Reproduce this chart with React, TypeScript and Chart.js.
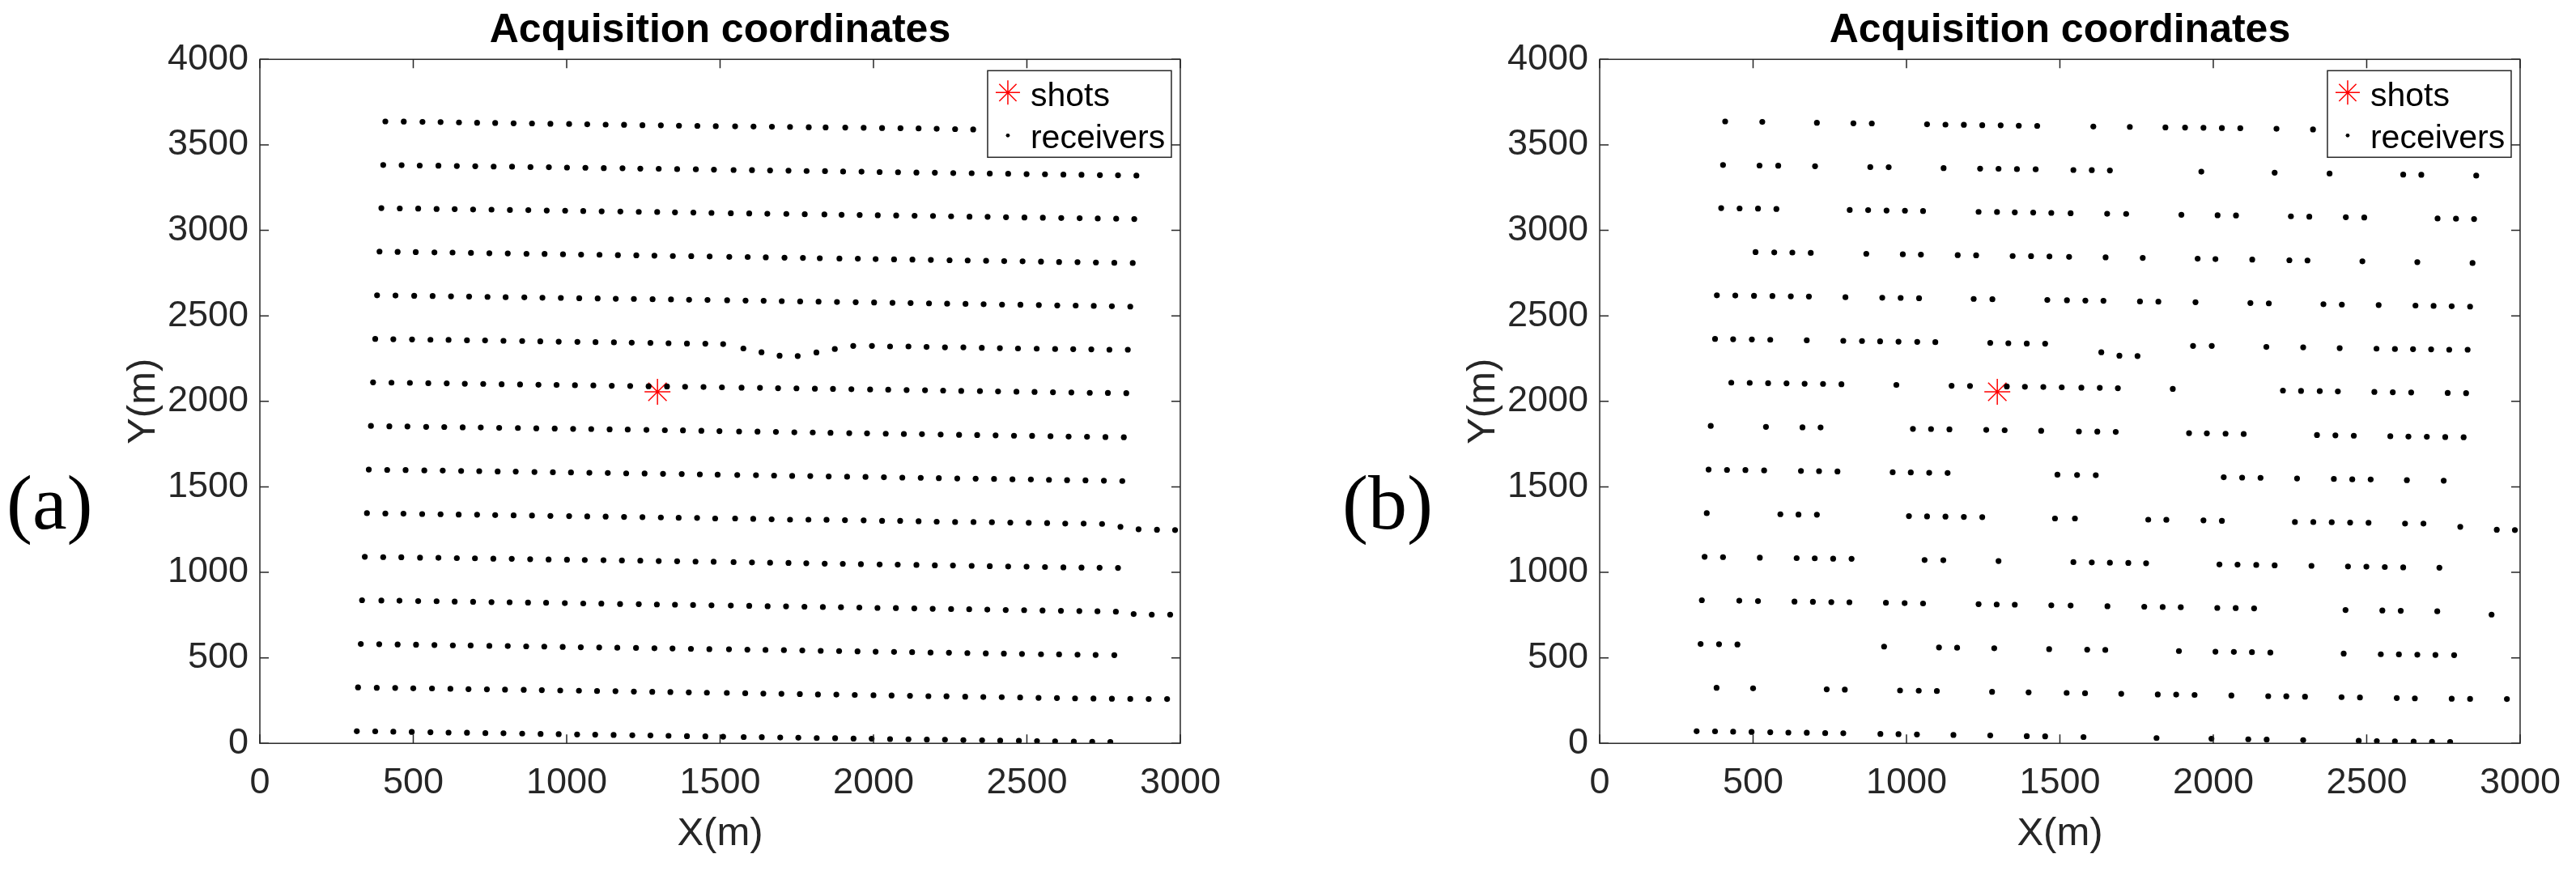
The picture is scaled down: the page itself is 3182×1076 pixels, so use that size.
import React, { useEffect, useRef } from "react";
import { Chart, registerables } from "chart.js";

Chart.register(...registerables);

const FONT = "'Liberation Sans', Arial, Helvetica, sans-serif";
const TITLE = "Acquisition coordinates";
const X_LABEL = "X(m)";
const Y_LABEL = "Y(m)";
const X_TICKS = [0, 500, 1000, 1500, 2000, 2500, 3000];
const Y_TICKS = [0, 500, 1000, 1500, 2000, 2500, 3000, 3500, 4000];
const LEGEND_LABELS = ["shots", "receivers"];
const PANEL_LABELS = ["(a)", "(b)"];

const shotX = [1296];
const shotY = [2056];

// Panel (a): full receiver lines, [x, y] in metres
const rowA01 = [[409,3637],[469,3636],[530,3634],[589,3633],[649,3631],[708,3629],[767,3628],[827,3626],[887,3625],[947,3623],[1008,3622],[1067,3620],[1127,3618],[1187,3617],[1247,3615],[1307,3614],[1366,3612],[1426,3611],[1486,3609],[1549,3608],[1609,3607],[1669,3606],[1728,3605],[1789,3603],[1844,3602],[1908,3601],[1968,3600],[2028,3598],[2088,3597],[2147,3596],[2206,3594],[2266,3592],[2325,3590]];
const rowA02 = [[402,3382],[462,3381],[521,3379],[582,3378],[642,3376],[702,3375],[762,3373],[822,3372],[882,3370],[942,3369],[1001,3367],[1061,3366],[1121,3364],[1182,3363],[1240,3361],[1300,3360],[1360,3358],[1421,3357],[1480,3355],[1544,3353],[1604,3352],[1663,3350],[1723,3349],[1782,3347],[1842,3346],[1901,3344],[1961,3343],[2020,3341],[2080,3340],[2140,3338],[2200,3337],[2260,3335],[2320,3334],[2379,3332],[2439,3331],[2499,3329],[2559,3328],[2619,3326],[2678,3325],[2738,3323],[2797,3322],[2857,3320]];
const rowA03 = [[396,3130],[456,3128],[516,3127],[576,3125],[635,3124],[695,3122],[755,3121],[815,3119],[875,3118],[935,3116],[995,3115],[1054,3113],[1114,3111],[1175,3110],[1235,3108],[1295,3107],[1353,3105],[1413,3104],[1472,3102],[1535,3100],[1595,3099],[1654,3097],[1716,3096],[1776,3094],[1840,3093],[1896,3091],[1955,3090],[2014,3088],[2074,3087],[2134,3085],[2194,3084],[2253,3082],[2313,3080],[2372,3079],[2432,3077],[2492,3075],[2552,3074],[2612,3072],[2672,3071],[2731,3069],[2791,3068],[2850,3066]];
const rowA04 = [[390,2876],[449,2874],[508,2873],[569,2871],[628,2870],[688,2868],[748,2866],[808,2865],[869,2863],[928,2862],[988,2860],[1047,2858],[1107,2857],[1167,2855],[1227,2854],[1286,2852],[1346,2850],[1406,2849],[1466,2847],[1530,2845],[1590,2844],[1649,2842],[1710,2840],[1770,2839],[1825,2837],[1889,2835],[1949,2834],[2007,2832],[2067,2830],[2127,2829],[2187,2827],[2248,2825],[2307,2824],[2367,2822],[2426,2820],[2486,2819],[2546,2817],[2605,2815],[2665,2814],[2725,2812],[2785,2810],[2845,2809]];
const rowA05 = [[382,2620],[442,2619],[503,2617],[563,2616],[623,2614],[682,2613],[742,2611],[801,2609],[862,2608],[921,2606],[981,2605],[1041,2603],[1101,2602],[1160,2600],[1219,2599],[1280,2597],[1340,2596],[1399,2594],[1459,2593],[1523,2591],[1583,2589],[1642,2588],[1701,2586],[1761,2584],[1821,2583],[1881,2581],[1942,2580],[2002,2578],[2062,2576],[2121,2575],[2181,2573],[2240,2571],[2300,2570],[2359,2568],[2419,2566],[2479,2565],[2539,2563],[2599,2561],[2659,2560],[2718,2558],[2777,2556],[2837,2554]];
const rowA06 = [[376,2365],[435,2363],[496,2362],[556,2360],[615,2359],[675,2357],[734,2356],[794,2354],[855,2353],[914,2351],[974,2349],[1035,2348],[1094,2346],[1154,2345],[1212,2343],[1273,2342],[1332,2340],[1392,2338],[1452,2337],[1510,2335],[1576,2309],[1635,2287],[1694,2267],[1753,2265],[1814,2286],[1874,2306],[1934,2324],[1995,2324],[2054,2321],[2114,2321],[2173,2318],[2233,2316],[2293,2316],[2353,2313],[2412,2311],[2471,2309],[2532,2308],[2592,2306],[2651,2305],[2710,2304],[2769,2302],[2829,2302]];
const rowA07 = [[369,2111],[429,2109],[489,2108],[549,2106],[609,2105],[668,2103],[728,2102],[788,2100],[848,2099],[908,2097],[967,2096],[1027,2094],[1087,2093],[1147,2091],[1207,2090],[1267,2088],[1327,2087],[1386,2085],[1446,2084],[1506,2082],[1570,2080],[1630,2079],[1689,2077],[1749,2076],[1809,2074],[1868,2073],[1928,2071],[1989,2069],[2048,2068],[2108,2066],[2168,2065],[2227,2063],[2286,2061],[2347,2060],[2406,2058],[2466,2056],[2525,2055],[2585,2053],[2645,2052],[2705,2050],[2764,2049],[2824,2048]];
const rowA08 = [[362,1856],[422,1854],[481,1853],[542,1851],[601,1850],[661,1848],[720,1847],[780,1845],[841,1844],[901,1842],[961,1841],[1021,1839],[1080,1838],[1140,1836],[1199,1835],[1260,1833],[1320,1831],[1379,1830],[1439,1828],[1498,1826],[1562,1824],[1622,1823],[1682,1821],[1742,1819],[1802,1818],[1860,1816],[1921,1814],[1979,1813],[2040,1811],[2099,1809],[2158,1808],[2219,1806],[2279,1804],[2338,1803],[2398,1801],[2458,1799],[2517,1798],[2577,1796],[2636,1794],[2696,1793],[2756,1791],[2816,1790]];
const rowA09 = [[355,1601],[415,1599],[475,1598],[536,1596],[596,1595],[656,1593],[715,1592],[775,1590],[834,1589],[895,1587],[955,1585],[1014,1584],[1074,1582],[1134,1581],[1194,1579],[1254,1578],[1314,1576],[1375,1575],[1434,1573],[1492,1571],[1556,1569],[1617,1568],[1676,1566],[1735,1564],[1794,1563],[1854,1561],[1914,1559],[1974,1558],[2034,1556],[2094,1554],[2154,1553],[2213,1551],[2273,1549],[2333,1548],[2393,1546],[2453,1544],[2513,1543],[2572,1541],[2631,1539],[2691,1538],[2751,1536],[2811,1534]];
const rowA10 = [[349,1346],[409,1344],[468,1343],[529,1341],[589,1340],[648,1338],[708,1337],[767,1335],[827,1333],[887,1332],[947,1330],[1008,1329],[1067,1327],[1127,1326],[1187,1324],[1247,1323],[1307,1321],[1365,1319],[1425,1318],[1484,1315],[1549,1315],[1608,1313],[1668,1310],[1728,1308],[1788,1308],[1847,1307],[1907,1305],[1968,1304],[2028,1301],[2087,1301],[2147,1299],[2206,1296],[2266,1294],[2326,1294],[2386,1293],[2446,1291],[2506,1290],[2566,1288],[2625,1285],[2685,1285],[2745,1283],[2805,1266],[2864,1252],[2924,1249],[2983,1247]];
const rowA11 = [[342,1091],[402,1089],[461,1088],[522,1086],[582,1085],[642,1083],[701,1082],[761,1080],[821,1079],[881,1077],[941,1075],[1001,1074],[1059,1072],[1120,1071],[1180,1069],[1240,1068],[1300,1066],[1360,1065],[1420,1063],[1479,1062],[1544,1060],[1604,1058],[1663,1056],[1723,1055],[1781,1053],[1841,1051],[1900,1050],[1959,1048],[2020,1046],[2079,1045],[2140,1043],[2200,1041],[2259,1040],[2320,1038],[2379,1036],[2439,1034],[2499,1033],[2559,1031],[2619,1029],[2678,1028],[2737,1027],[2797,1026]];
const rowA12 = [[333,837],[396,835],[455,834],[516,832],[576,831],[635,829],[695,828],[755,826],[814,825],[874,823],[933,822],[994,820],[1054,818],[1113,817],[1174,815],[1235,814],[1294,812],[1353,811],[1412,809],[1472,807],[1535,806],[1595,804],[1655,802],[1715,801],[1775,799],[1835,797],[1894,796],[1954,794],[2013,792],[2073,791],[2133,789],[2193,787],[2253,785],[2312,784],[2371,782],[2431,780],[2491,779],[2551,777],[2611,775],[2671,774],[2730,772],[2790,770],[2848,756],[2907,753],[2967,753]];
const rowA13 = [[329,581],[389,580],[449,578],[509,577],[569,575],[629,573],[687,572],[748,570],[808,569],[868,567],[927,566],[987,564],[1046,562],[1106,561],[1165,559],[1226,558],[1286,556],[1345,555],[1405,553],[1465,551],[1529,550],[1589,548],[1648,546],[1708,545],[1768,543],[1828,541],[1888,540],[1948,538],[2007,536],[2067,535],[2126,533],[2186,531],[2246,530],[2306,528],[2366,526],[2425,525],[2484,523],[2546,521],[2605,520],[2665,518],[2724,517],[2785,516]];
const rowA14 = [[320,327],[381,325],[441,324],[500,322],[561,321],[621,319],[680,317],[740,316],[799,314],[860,313],[919,311],[979,309],[1040,308],[1099,306],[1159,305],[1219,303],[1279,301],[1338,300],[1398,298],[1457,296],[1522,295],[1582,293],[1641,291],[1700,290],[1760,288],[1819,286],[1879,285],[1939,283],[2000,281],[2059,280],[2119,278],[2179,276],[2238,275],[2299,273],[2358,271],[2418,270],[2478,268],[2538,266],[2598,265],[2657,263],[2717,262],[2777,261],[2837,260],[2897,259],[2957,259]];
const rowA15 = [[316,71],[376,70],[435,68],[495,67],[556,65],[615,63],[675,62],[735,60],[794,59],[855,57],[915,55],[974,54],[1034,52],[1093,51],[1153,49],[1214,47],[1273,46],[1332,44],[1392,42],[1452,41],[1510,39],[1577,37],[1636,36],[1696,34],[1755,33],[1815,31],[1875,30],[1935,28],[1994,27],[2054,25],[2114,24],[2174,22],[2233,21],[2293,19],[2354,18],[2413,16],[2474,15],[2533,13],[2592,12],[2653,10],[2713,9],[2772,8]];

// Panel (b): x positions of the receivers kept on each line
const keepB01 = [409,530,708,827,887,1067,1127,1187,1247,1307,1366,1426,1609,1728,1844,1908,1968,2028,2088,2206,2325];
const keepB02 = [402,521,582,702,882,942,1121,1240,1300,1360,1421,1544,1604,1663,1961,2200,2379,2619,2678,2857];
const keepB03 = [396,456,516,576,815,875,935,995,1054,1235,1295,1353,1413,1472,1535,1654,1716,1896,2014,2074,2253,2313,2432,2492,2731,2791,2850];
const keepB04 = [508,569,628,688,869,988,1047,1167,1227,1346,1406,1466,1530,1649,1770,1949,2007,2127,2248,2307,2486,2665,2845];
const keepB05 = [382,442,503,563,623,682,801,921,981,1041,1219,1280,1459,1523,1583,1642,1761,1821,1942,2121,2181,2359,2419,2539,2659,2718,2777,2837];
const keepB06 = [376,435,496,556,675,794,855,914,974,1035,1094,1273,1332,1392,1452,1635,1694,1753,1934,1995,2173,2293,2412,2532,2592,2651,2710,2769,2829];
const keepB07 = [429,489,549,609,668,728,788,967,1147,1207,1327,1386,1446,1506,1570,1630,1689,1868,2227,2286,2347,2406,2525,2585,2645,2764,2824];
const keepB08 = [362,542,661,720,1021,1080,1140,1260,1320,1439,1562,1622,1682,1921,1979,2040,2099,2338,2398,2458,2577,2636,2696,2756,2816];
const keepB09 = [355,415,475,536,656,715,775,955,1014,1074,1134,1496,1556,1617,2034,2094,2154,2273,2393,2453,2513,2631,2751];
const keepB10 = [349,589,648,708,1008,1067,1127,1187,1247,1489,1549,1788,1847,1968,2028,2266,2326,2386,2446,2506,2625,2685,2805,2924,2983];
const keepB11 = [342,402,522,642,701,761,821,1059,1120,1300,1544,1604,1663,1723,1781,2020,2079,2140,2200,2320,2439,2499,2559,2619,2737];
const keepB12 = [333,455,516,635,695,755,814,933,994,1054,1235,1294,1353,1472,1535,1655,1775,1835,1894,2013,2073,2133,2431,2551,2611,2730,2907];
const keepB13 = [329,389,449,927,1106,1165,1286,1465,1589,1648,1888,2007,2067,2126,2186,2425,2546,2605,2665,2724,2785];
const keepB14 = [381,500,740,799,979,1040,1099,1279,1398,1522,1582,1700,1819,1879,1939,2059,2179,2238,2299,2418,2478,2598,2657,2777,2837,2957];
const keepB15 = [316,376,435,495,556,615,675,735,794,915,974,1034,1153,1273,1392,1452,1577,1815,1994,2114,2174,2293,2474,2533,2592,2653,2713,2772];

const rowsA = [rowA01,rowA02,rowA03,rowA04,rowA05,rowA06,rowA07,rowA08,rowA09,rowA10,rowA11,rowA12,rowA13,rowA14,rowA15];
const keepsB = [keepB01,keepB02,keepB03,keepB04,keepB05,keepB06,keepB07,keepB08,keepB09,keepB10,keepB11,keepB12,keepB13,keepB14,keepB15];

function receiversFull() {
  return rowsA.flat().map(([x, y]) => ({ x, y }));
}

function receiversSparse() {
  const out: { x: number; y: number }[] = [];
  keepsB.forEach((keep, i) => {
    const row = rowsA[i];
    keep.forEach((kx) => {
      let best = row[0];
      for (const p of row) if (Math.abs(p[0] - kx) < Math.abs(best[0] - kx)) best = p;
      out.push({ x: best[0], y: best[1] });
    });
  });
  return out;
}

const AXIS_COLOR = "#262626";

function drawStar(ctx: CanvasRenderingContext2D, x: number, y: number, r: number) {
  ctx.beginPath();
  for (let k = 0; k < 4; k++) {
    const a = (k * Math.PI) / 4;
    ctx.moveTo(x - Math.cos(a) * r, y - Math.sin(a) * r);
    ctx.lineTo(x + Math.cos(a) * r, y + Math.sin(a) * r);
  }
  ctx.stroke();
}

const framePlugin = {
  id: "matlabFrame",
  afterDatasetsDraw(chart: any) {
    const { ctx, chartArea: a, scales } = chart;
    ctx.save();
    ctx.strokeStyle = AXIS_COLOR;
    ctx.lineWidth = 1.5;
    ctx.strokeRect(a.left, a.top, a.width, a.height);
    const tl = 11;
    ctx.beginPath();
    for (const v of X_TICKS) {
      const px = scales.x.getPixelForValue(v);
      ctx.moveTo(px, a.bottom);
      ctx.lineTo(px, a.bottom - tl);
      ctx.moveTo(px, a.top);
      ctx.lineTo(px, a.top + tl);
    }
    for (const v of Y_TICKS) {
      const py = scales.y.getPixelForValue(v);
      ctx.moveTo(a.left, py);
      ctx.lineTo(a.left + tl, py);
      ctx.moveTo(a.right, py);
      ctx.lineTo(a.right - tl, py);
    }
    ctx.stroke();

    // legend box
    const bw = 227;
    const bh = 107;
    const bx = a.right - 11 - bw;
    const by = a.top + 14;
    ctx.fillStyle = "#ffffff";
    ctx.fillRect(bx, by, bw, bh);
    ctx.strokeStyle = AXIS_COLOR;
    ctx.lineWidth = 1.5;
    ctx.strokeRect(bx, by, bw, bh);
    ctx.strokeStyle = "#ff0000";
    ctx.lineWidth = 1.5;
    drawStar(ctx, bx + 25, by + 27, 15);
    ctx.fillStyle = "#000000";
    ctx.beginPath();
    ctx.arc(bx + 25, by + 80, 2.4, 0, Math.PI * 2);
    ctx.fill();
    ctx.font = `41px ${FONT}`;
    ctx.textAlign = "left";
    ctx.textBaseline = "alphabetic";
    ctx.fillText(LEGEND_LABELS[0], bx + 53, by + 44);
    ctx.fillText(LEGEND_LABELS[1], bx + 53, by + 96);
    ctx.restore();
  },
};

const CANVAS_W = 1400;
const CANVAS_H = 1076;

function Panel({ left, data }: { left: number; data: { x: number; y: number }[] }) {
  const ref = useRef<HTMLCanvasElement | null>(null);
  useEffect(() => {
    if (!ref.current) return;
    const chart = new Chart(ref.current, {
      type: "scatter",
      data: {
        datasets: [
          {
            label: LEGEND_LABELS[1],
            data,
            pointRadius: 3.6,
            pointBorderWidth: 0,
            backgroundColor: "#000000",
            borderColor: "#000000",
          },
          {
            label: LEGEND_LABELS[0],
            data: shotX.map((x, i) => ({ x, y: shotY[i] })),
            pointStyle: "star",
            pointRadius: 16,
            pointBorderWidth: 1.5,
            borderColor: "#ff0000",
            backgroundColor: "#ff0000",
          },
        ],
      },
      options: {
        animation: false,
        responsive: false,
        maintainAspectRatio: false,
        events: [],
        layout: { padding: { left: 0, right: 65, top: 0, bottom: 0 } },
        plugins: {
          legend: { display: false },
          tooltip: { enabled: false },
          title: {
            display: true,
            text: TITLE,
            fullSize: false,
            color: "#000000",
            font: { family: FONT, size: 50, weight: "bold" },
            padding: { top: 8, bottom: 5.3 },
          },
        },
        scales: {
          x: {
            type: "linear",
            min: 0,
            max: 3000,
            ticks: {
              stepSize: 500,
              autoSkip: false,
              maxRotation: 0,
              color: AXIS_COLOR,
              font: { family: FONT, size: 45 },
              padding: 22,
              callback: (v: any) => String(v),
            },
            grid: { display: false, drawTicks: false },
            border: { display: false },
            title: {
              display: true,
              text: X_LABEL,
              color: AXIS_COLOR,
              font: { family: FONT, size: 49 },
              padding: { top: 0, bottom: 16 },
            },
            afterFit: (s: any) => {
              s.height = 157.7;
            },
          },
          y: {
            type: "linear",
            min: 0,
            max: 4000,
            ticks: {
              stepSize: 500,
              autoSkip: false,
              color: AXIS_COLOR,
              font: { family: FONT, size: 45 },
              padding: 14,
              callback: (v: any) => String(v),
            },
            grid: { display: false, drawTicks: false },
            border: { display: false },
            title: {
              display: true,
              text: Y_LABEL,
              color: AXIS_COLOR,
              font: { family: FONT, size: 49 },
              padding: { top: 18, bottom: 0 },
            },
            afterFit: (s: any) => {
              s.width = 191;
            },
          },
        },
      },
      plugins: [framePlugin],
    } as any);
    return () => chart.destroy();
  }, []);
  return (
    <canvas
      ref={ref}
      width={CANVAS_W}
      height={CANVAS_H}
      style={{ position: "absolute", left, top: 0, width: CANVAS_W, height: CANVAS_H }}
    />
  );
}

export default function App() {
  const labelStyle: React.CSSProperties = {
    position: "absolute",
    top: 566,
    fontFamily: "'Liberation Serif', 'Times New Roman', serif",
    fontSize: 96,
    lineHeight: "110px",
    color: "#000",
  };
  return (
    <div
      style={{
        position: "fixed",
        left: 0,
        top: 0,
        width: 3182,
        height: 1076,
        background: "#ffffff",
        overflow: "hidden",
      }}
    >
      <Panel left={130} data={receiversFull()} />
      <Panel left={1785} data={receiversSparse()} />
      <div style={{ ...labelStyle, left: 8 }}>{PANEL_LABELS[0]}</div>
      <div style={{ ...labelStyle, left: 1658 }}>{PANEL_LABELS[1]}</div>
    </div>
  );
}
